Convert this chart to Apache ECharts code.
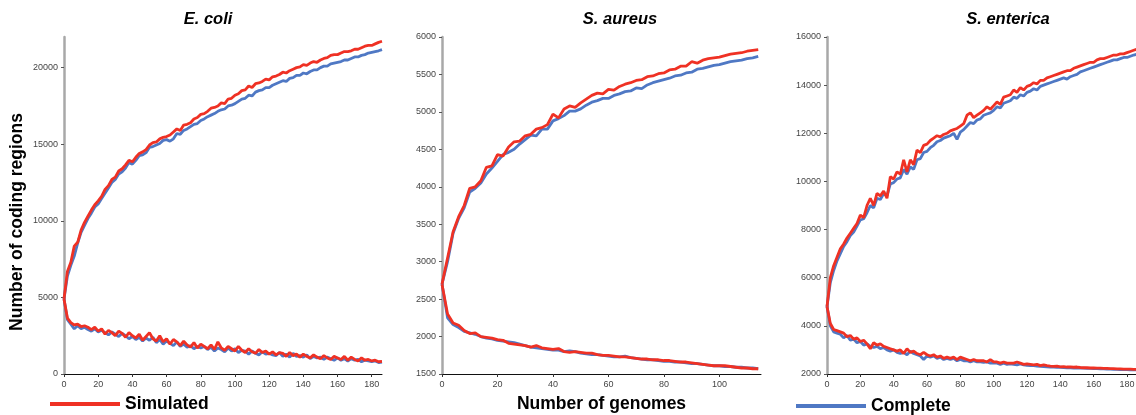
<!DOCTYPE html>
<html><head><meta charset="utf-8">
<script src="https://cdn.jsdelivr.net/npm/echarts@6/dist/echarts.min.js"></script>
<style>html,body{margin:0;padding:0;background:#fff}#c{width:1136px;height:415px}</style>
</head><body><div id="c"></div>
<script>
const panelTitles = ['E. coli', 'S. aureus', 'S. enterica'];
const legendNames = ['Simulated', 'Complete'];
const yTitle = 'Number of coding regions';
const xTitle = 'Number of genomes';

const ecoliGenomes = [0,2,4,6,8,10,12,14,16,18,20,22,24,26,28,30,32,34,36,38,40,42,44,46,48,50,52,54,56,58,60,62,64,66,68,70,72,74,76,78,80,82,84,86,88,90,92,94,96,98,100,102,104,106,108,110,112,114,116,118,120,122,124,126,128,130,132,134,136,138,140,142,144,146,148,150,152,154,156,158,160,162,164,166,168,170,172,174,176,178,180,182,184,186];
const ecoliPanSim = [4900,6700,7300,8350,8600,9400,9900,10300,10700,11050,
 11300,11600,12050,12300,12700,12850,13250,13400,13650,13950,
 13850,14150,14400,14500,14650,14950,15100,15150,15350,15450,
 15500,15600,15800,16000,15900,16250,16300,16400,16650,16750,
 16950,17000,17150,17350,17400,17500,17700,17650,17950,18000,
 18200,18300,18500,18550,18800,18700,18950,19000,19100,19250,
 19200,19400,19450,19550,19700,19650,19800,19900,20000,20050,
 20200,20150,20300,20400,20350,20500,20600,20650,20800,20850,
 20850,20950,21050,21050,21100,21200,21200,21300,21400,21450,
 21450,21550,21650,21720];
const ecoliPanComp = [4900,6400,7100,7700,8550,9250,9700,10150,10500,10900,
 11100,11450,11800,12150,12500,12700,13050,13200,13450,13800,
 13700,13950,14250,14300,14450,14800,14850,14950,15050,15250,
 15300,15200,15350,15700,15650,15900,16000,16150,16300,16350,
 16550,16650,16800,16900,17000,17150,17250,17300,17500,17550,
 17650,17800,17950,18000,18200,18150,18400,18500,18550,18700,
 18700,18850,18950,19050,19150,19100,19300,19350,19500,19500,
 19650,19600,19750,19850,19850,20000,20100,20100,20250,20300,
 20350,20400,20500,20500,20600,20700,20700,20800,20850,20950,
 21000,21050,21100,21180];
const ecoliCoreSim = [4900,3650,3350,3200,3250,3100,3150,3050,2900,3050,
 2800,2950,2600,2850,2700,2500,2800,2650,2400,2700,
 2500,2350,2600,2200,2450,2700,2300,2150,2500,2100,
 2300,1950,2250,2100,1850,2150,1900,1750,2050,1700,
 1950,1800,1650,1900,1600,2100,1700,1550,1800,1650,
 1500,1800,1550,1400,1650,1450,1350,1600,1400,1500,
 1300,1450,1250,1400,1350,1150,1400,1200,1300,1100,
 1300,1150,1050,1250,1100,1000,1200,1050,950,1150,
 1050,950,1150,900,1100,950,850,1050,900,950,
 850,900,800,820];
const ecoliCoreComp = [4900,3550,3250,2950,3150,2950,3050,2900,2800,2950,
 2750,2850,2700,2550,2750,2600,2450,2650,2500,2300,
 2450,2250,2400,2150,2350,2200,2400,2050,2250,1950,
 2150,2000,1850,2100,1800,1950,1750,1850,1650,1800,
 1700,1800,1600,1750,1500,1700,1600,1450,1700,1500,
 1650,1400,1550,1500,1300,1500,1350,1250,1450,1300,
 1350,1250,1200,1400,1150,1300,1100,1350,1150,1200,
 1100,1250,1000,1150,1050,1100,950,1100,1000,900,
 1050,900,1000,850,1000,900,950,800,900,850,
 800,850,750,780];

const aureusGenomes = [0,2,4,6,8,10,12,14,16,18,20,22,24,26,28,30,32,34,36,38,40,42,44,46,48,50,52,54,56,58,60,62,64,66,68,70,72,74,76,78,80,82,84,86,88,90,92,94,96,98,100,102,104,106,108,110,112,114];
const aureusPanSim = [2700,3050,3400,3600,3750,3980,4000,4080,4260,4280,
 4430,4410,4530,4600,4610,4680,4700,4770,4790,4830,
 4970,4920,5040,5080,5060,5120,5170,5220,5250,5240,
 5300,5290,5340,5370,5390,5420,5430,5470,5480,5510,
 5520,5560,5570,5610,5610,5670,5650,5690,5710,5720,
 5730,5750,5770,5780,5790,5810,5820,5830];
const aureusPanComp = [2700,3000,3380,3580,3720,3930,3980,4050,4170,4250,
 4340,4430,4460,4500,4570,4630,4690,4680,4770,4770,
 4880,4910,4950,5010,5010,5040,5090,5130,5150,5180,
 5180,5220,5240,5270,5280,5320,5310,5360,5390,5410,
 5430,5450,5480,5490,5520,5530,5570,5580,5600,5620,
 5630,5650,5670,5680,5690,5710,5720,5740];
const aureusCoreSim = [2700,2300,2180,2150,2080,2040,2050,2000,1990,1980,
 1960,1950,1910,1900,1890,1880,1860,1880,1850,1840,
 1830,1840,1800,1790,1800,1790,1780,1780,1760,1750,
 1750,1740,1730,1730,1720,1710,1700,1700,1690,1690,
 1680,1680,1670,1660,1660,1650,1640,1630,1620,1610,
 1610,1610,1600,1590,1580,1580,1570,1570];
const aureusCoreComp = [2700,2250,2160,2120,2070,2050,2030,2000,1980,1970,
 1950,1940,1930,1920,1900,1880,1860,1850,1840,1830,
 1820,1820,1800,1810,1800,1780,1770,1760,1760,1750,
 1740,1730,1730,1740,1720,1710,1700,1690,1690,1680,
 1670,1670,1660,1660,1650,1640,1640,1630,1620,1610,
 1610,1600,1600,1590,1590,1580,1580,1570];

const entericaGenomes = [0,2,4,6,8,10,12,14,16,18,20,22,24,26,28,30,32,34,36,38,40,42,44,46,48,50,52,54,56,58,60,62,64,66,68,70,72,74,76,78,80,82,84,86,88,90,92,94,96,98,100,102,104,106,108,110,112,114,116,118,120,122,124,126,128,130,132,134,136,138,140,142,144,146,148,150,152,154,156,158,160,162,164,166,168,170,172,174,176,178,180,182,184,186];
const entericaPanSim = [4800,6000,6500,6850,7200,7400,7650,7850,8050,8250,
 8600,8500,9000,9300,9000,9500,9400,9600,9300,10200,
 10100,10400,10300,10900,10400,10900,10700,11300,11200,11500,
 11550,11700,11800,11900,11850,11950,12000,12100,12150,12200,
 12300,12400,12750,12850,12650,12750,12850,12950,13100,13000,
 13150,13300,13200,13500,13550,13600,13800,13700,13900,13800,
 13950,14000,14100,14050,14200,14200,14300,14350,14400,14450,
 14500,14550,14600,14600,14700,14750,14800,14850,14900,14950,
 14950,15050,15100,15100,15150,15200,15250,15250,15300,15300,
 15350,15400,15450,15500];
const entericaPanComp = [4800,5800,6300,6700,7000,7300,7500,7750,7900,8150,
 8400,8450,8700,9000,8900,9300,9250,9500,9400,9900,
 9950,10100,10150,10500,10300,10600,10500,10900,10950,11200,
 11250,11400,11500,11650,11700,11800,11850,11900,12000,11750,
 12050,12150,12300,12450,12400,12550,12600,12750,12800,12850,
 12950,13100,13050,13250,13300,13350,13500,13450,13600,13550,
 13700,13750,13850,13800,13950,14000,14050,14100,14150,14200,
 14250,14300,14250,14350,14400,14450,14550,14600,14650,14700,
 14750,14800,14850,14900,14950,15000,15050,15050,15100,15150,
 15150,15200,15250,15280];
const entericaCoreSim = [4800,4100,3850,3800,3750,3700,3550,3600,3450,3500,
 3350,3400,3250,3050,3300,3200,3250,3150,3100,3050,
 3000,2950,3000,2850,3050,2900,2950,2850,2800,2900,
 2800,2750,2800,2700,2750,2650,2700,2650,2700,2600,
 2700,2650,2600,2550,2600,2550,2550,2550,2500,2600,
 2500,2500,2450,2500,2450,2450,2450,2500,2450,2400,
 2420,2400,2380,2400,2350,2380,2350,2330,2320,2330,
 2300,2310,2290,2300,2280,2290,2270,2260,2260,2250,
 2250,2240,2240,2230,2230,2220,2220,2210,2210,2200,
 2200,2200,2190,2190];
const entericaCoreComp = [4800,4000,3750,3700,3650,3500,3600,3400,3450,3300,
 3350,3200,3250,3150,3100,3150,3050,3100,3000,2950,
 3000,2900,2850,2900,2800,2950,2850,2800,2750,2600,
 2750,2700,2750,2650,2700,2600,2650,2600,2650,2550,
 2600,2550,2550,2500,2550,2500,2500,2480,2500,2450,
 2450,2450,2400,2450,2400,2420,2400,2380,2420,2380,
 2360,2350,2350,2330,2320,2310,2300,2290,2290,2280,
 2280,2270,2260,2260,2250,2250,2240,2240,2230,2230,
 2220,2220,2210,2210,2200,2200,2190,2190,2180,2180,
 2180,2170,2170,2170];

const ecoliXTicks = [0,20,40,60,80,100,120,140,160,180];
const aureusXTicks = [0,20,40,60,80,100];
const entericaXTicks = [0,20,40,60,80,100,120,140,160,180];
const ecoliYTicks = [0,5000,10000,15000,20000];
const aureusYTicks = [1500,2000,2500,3000,3500,4000,4500,5000,5500,6000];
const entericaYTicks = [2000,4000,6000,8000,10000,12000,14000,16000];

const RED = '#ef3124', BLUE = '#4f78c4';
const chart = echarts.init(document.getElementById('c'), null, {renderer: 'canvas'});

const panels = [
  {g: ecoliGenomes, ps: ecoliPanSim, pc: ecoliPanComp, cs: ecoliCoreSim, cc: ecoliCoreComp,
   xMax: 186, xt: ecoliXTicks, yMin: 0, yMax: 22000, yInt: 5000, yt: ecoliYTicks, left: 64, width: 318, cx: 203},
  {g: aureusGenomes, ps: aureusPanSim, pc: aureusPanComp, cs: aureusCoreSim, cc: aureusCoreComp,
   xMax: 115, xt: aureusXTicks, yMin: 1500, yMax: 6000, yInt: 500, yt: aureusYTicks, left: 442, width: 319, cx: 615},
  {g: entericaGenomes, ps: entericaPanSim, pc: entericaPanComp, cs: entericaCoreSim, cc: entericaCoreComp,
   xMax: 186, xt: entericaXTicks, yMin: 2000, yMax: 16000, yInt: 2000, yt: entericaYTicks, left: 827, width: 310, cx: 1003}
];

const boldFont = 'Liberation Sans, Arial, sans-serif';
const labelStyle = {fontFamily: boldFont, fontSize: 9, color: '#454545', formatter: v => String(v)};

const grid = [], xAxis = [], yAxis = [], series = [], title = [];
panels.forEach((p, i) => {
  grid.push({left: p.left, top: 37, width: p.width, height: 337, containLabel: false, outerBoundsMode: 'none'});
  title.push({text: panelTitles[i], left: p.cx, top: 6, textAlign: 'center',
    textStyle: {fontFamily: boldFont, fontSize: 16.5, fontWeight: 'bold', fontStyle: 'italic', color: '#000'}});
  xAxis.push({type: 'value', gridIndex: i, min: 0, max: p.xMax, interval: 20,
    name: i === 1 ? xTitle : '', nameLocation: 'middle', nameGap: 21,
    nameTextStyle: {fontFamily: boldFont, fontSize: 17.5, fontWeight: 'bold', color: '#000'},
    axisLine: {lineStyle: {color: '#111', width: 1}},
    axisTick: {show: true, length: 3, customValues: p.xt, lineStyle: {color: '#333'}},
    axisLabel: Object.assign({margin: 6, customValues: p.xt}, labelStyle),
    splitLine: {show: false}});
  yAxis.push({type: 'value', gridIndex: i, min: p.yMin, max: p.yMax, interval: p.yInt,
    axisLine: {show: true, lineStyle: {color: '#a8a8a8', width: 2.5}},
    axisTick: {show: true, length: 3, customValues: p.yt, lineStyle: {color: '#555'}},
    axisLabel: Object.assign({margin: 6, customValues: p.yt}, labelStyle),
    splitLine: {show: false}});
  const mk = (name, xs, ys, color, z) => ({
    type: 'line', name, xAxisIndex: i, yAxisIndex: i, z,
    data: xs.map((x, k) => [x, ys[k]]), showSymbol: false, symbol: 'none',
    lineStyle: {color, width: 2.8}, itemStyle: {color}, animation: false});
  series.push(mk(legendNames[1], p.g, p.pc, BLUE, 2));
  series.push(mk(legendNames[1], p.g, p.cc, BLUE, 2));
  series.push(mk(legendNames[0], p.g, p.ps, RED, 3));
  series.push(mk(legendNames[0], p.g, p.cs, RED, 3));
});

chart.setOption({
  animation: false,
  backgroundColor: '#fff',
  title,
  grid, xAxis, yAxis, series,
  legend: [
    {data: [legendNames[0]], left: 50, top: 395, padding: 0, icon: 'rect', itemWidth: 70, itemHeight: 4, itemGap: 0,
     selectedMode: false, textStyle: {fontFamily: boldFont, fontSize: 17.5, fontWeight: 'bold', color: '#000'}},
    {data: [legendNames[1]], left: 796, top: 397, padding: 0, icon: 'rect', itemWidth: 70, itemHeight: 4, itemGap: 0,
     selectedMode: false, textStyle: {fontFamily: boldFont, fontSize: 17.5, fontWeight: 'bold', color: '#000'}}
  ],
  graphic: [{type: 'text', x: 17, y: 222, rotation: Math.PI / 2,
    style: {text: yTitle, fill: '#000', font: 'bold 17.5px Liberation Sans, Arial, sans-serif',
      textAlign: 'center', textVerticalAlign: 'middle'}}]
});
</script></body></html>
